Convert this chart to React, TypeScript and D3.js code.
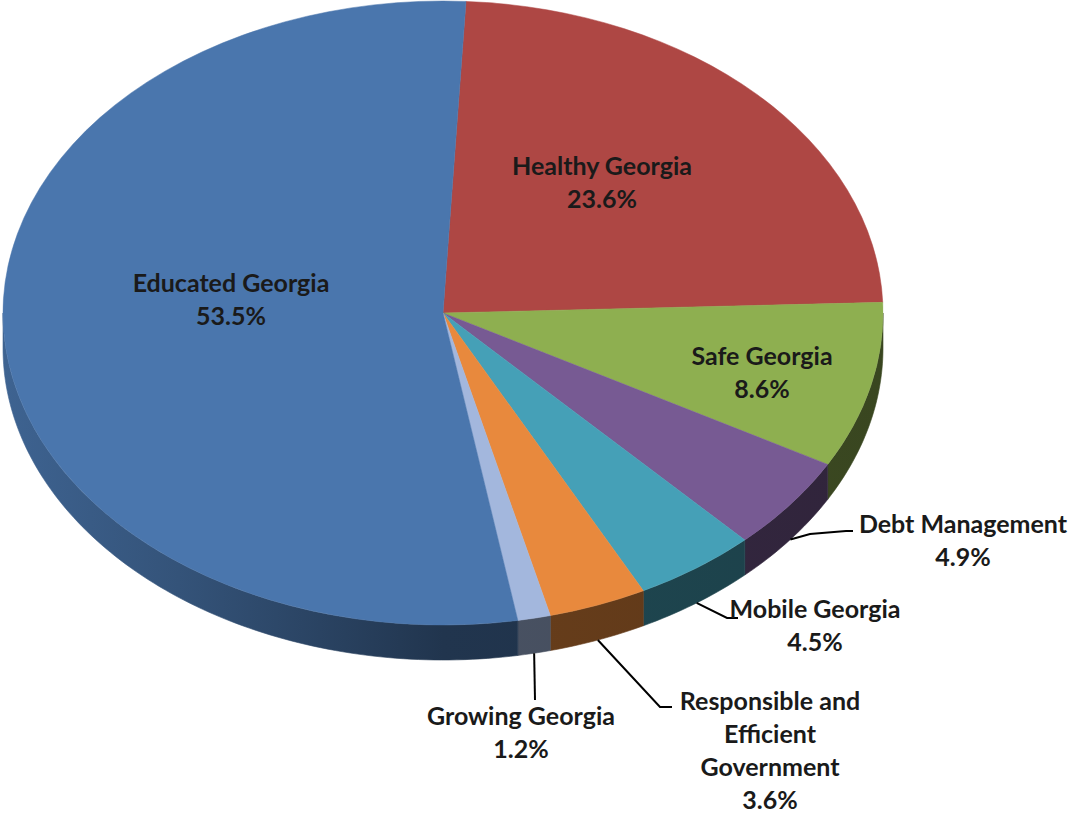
import React from "react";
import * as d3 from "d3";

// slice data, clockwise from 12 o'clock
const categories = [
  "Healthy Georgia",
  "Safe Georgia",
  "Debt Management",
  "Mobile Georgia",
  "Responsible and Efficient Government",
  "Growing Georgia",
  "Educated Georgia",
];
const values = [23.6, 8.6, 4.9, 4.5, 3.6, 1.2, 53.5];
const colors = ["#ae4744", "#8eaf50", "#775a93", "#45a0b7", "#e8893d", "#a3b7dd", "#4a76ad"];

// label layout (center x, first baseline, lines, leader points)
const labelLayout: Record<string, { x: number; y: number; lines: string[]; leader?: [number, number][] }> = {
  "Healthy Georgia": { x: 602, y: 175, lines: ["Healthy Georgia"] },
  "Safe Georgia": { x: 762, y: 365, lines: ["Safe Georgia"] },
  "Educated Georgia": { x: 231, y: 292, lines: ["Educated Georgia"] },
  "Debt Management": { x: 963, y: 533, lines: ["Debt Management"], leader: [[810, 534], [846, 531], [853, 531]] },
  "Mobile Georgia": { x: 815, y: 618, lines: ["Mobile Georgia"], leader: [[727, 618], [738, 618]] },
  "Responsible and Efficient Government": {
    x: 770, y: 710, lines: ["Responsible and", "Efficient", "Government"], leader: [[660, 707], [672, 707]],
  },
  "Growing Georgia": { x: 521, y: 725, lines: ["Growing Georgia"], leader: [[535, 700]] },
};

const W = 1073, H = 814;
const cx = 443, cy = 313, rx = 440, ry = 312, depth = 35;
const start = (3 * Math.PI) / 180;
const lineH = 33;

function shade(c: string, k: number) {
  const r = d3.rgb(c);
  return d3.rgb(r.r * k, r.g * k, r.b * k).formatHex();
}

export default function App() {
  const pie = d3
    .pie<number>()
    .sort(null)
    .value((d) => d)
    .startAngle(start)
    .endAngle(start + 2 * Math.PI);
  const arcs = pie(values);
  const arc = d3.arc<d3.PieArcDatum<number>>().innerRadius(0).outerRadius(rx);
  const line = d3.line<[number, number]>();

  const ex = (t: number) => cx + rx * Math.sin(t);
  const ey = (t: number) => cy - ry * Math.cos(t);

  // outer side walls, only for the front half
  const walls = arcs.map((a, i) => {
    const s = Math.max(a.startAngle, Math.PI / 2);
    const e = Math.min(a.endAngle, (3 * Math.PI) / 2);
    if (e <= s) return null;
    const n = Math.max(2, Math.ceil(((e - s) * 180) / Math.PI));
    const ts = d3.range(n + 1).map((j) => s + ((e - s) * j) / n);
    const pts: [number, number][] = [
      ...ts.map((t) => [ex(t), ey(t)] as [number, number]),
      ...ts.reverse().map((t) => [ex(t), ey(t) + depth] as [number, number]),
    ];
    return { i, d: line(pts) + "Z" };
  });

  return (
    <svg width={W} height={H} style={{ position: "absolute", left: 0, top: 0, background: "#fff" }}>
      <defs>
        {colors.map((c, i) => (
          <linearGradient key={i} id={`side${i}`} gradientUnits="userSpaceOnUse" x1={cx - rx} x2={cx + rx} y1={0} y2={0}>
            <stop offset="0" stopColor={shade(c, 0.84)} />
            <stop offset="0.2" stopColor={shade(c, 0.7)} />
            <stop offset="0.5" stopColor={shade(c, 0.45)} />
            <stop offset="1" stopColor={shade(c, 0.4)} />
          </linearGradient>
        ))}
      </defs>
      {walls.map((w) =>
        w ? <path key={w.i} d={w.d} fill={`url(#side${w.i})`} stroke={`url(#side${w.i})`} strokeWidth={0.6} /> : null
      )}
      <g transform={`translate(${cx},${cy}) scale(1,${ry / rx})`}>
        {arcs.map((a, i) => (
          <path key={i} d={arc(a) || ""} fill={colors[i]} stroke={colors[i]} strokeWidth={0.6} />
        ))}
      </g>
      {arcs.map((a, i) => {
        const name = categories[i];
        const lay = labelLayout[name];
        const mid = (a.startAngle + a.endAngle) / 2;
        const pct = `${values[i].toFixed(1)}%`;
        const lines = [...lay.lines, pct];
        let leader = null;
        if (lay.leader) {
          const p0: [number, number] = [ex(mid), ey(mid) + depth];
          leader = <path d={line([p0, ...lay.leader]) || ""} fill="none" stroke="#000" strokeWidth={2} />;
        }
        return (
          <g key={name}>
            {leader}
            <text
              textAnchor="middle"
              fontFamily="Lato, 'Open Sans', sans-serif"
              fontWeight="bold"
              fontSize={25}
              fill="#1a1a1a"
            >
              {lines.map((l, j) => (
                <tspan key={j} x={lay.x} y={lay.y + j * lineH}>
                  {l}
                </tspan>
              ))}
            </text>
          </g>
        );
      })}
    </svg>
  );
}
